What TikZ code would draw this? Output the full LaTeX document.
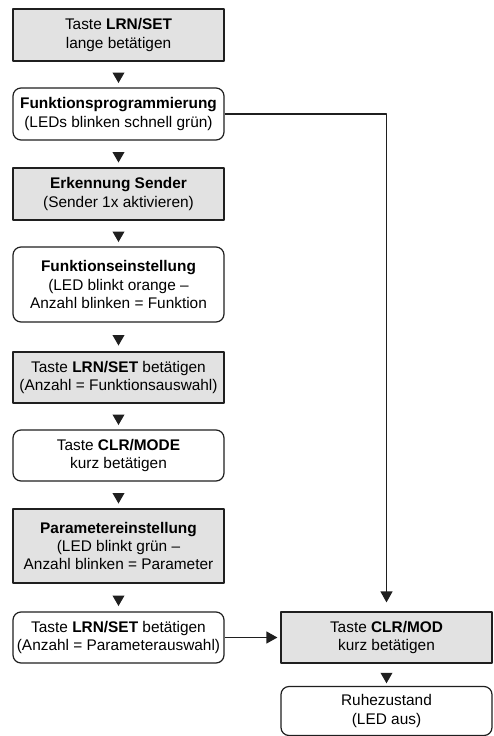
\documentclass[tikz,border=0pt]{standalone}
\usepackage{fontspec}
\setmainfont{Liberation Sans}
\usetikzlibrary{arrows.meta,shapes.geometric}
\definecolor{boxgray}{gray}{0.885}
\definecolor{strich}{gray}{0.12}
\tikzset{
  every picture/.style={line join=round, >=Stealth},
  kasten/.style={draw=strich, line width=1.2pt, minimum width=211pt, minimum height=52pt,
    align=center, inner sep=2pt, font=\fontsize{15.4}{18.3}\selectfont},
  grau/.style={kasten, fill=boxgray},
  rund/.style={kasten, rounded corners=8pt},
  dreieck/.style={regular polygon, regular polygon sides=3, shape border rotate=180,
    fill=strich, inner sep=0pt, minimum size=14pt},
  verbindung/.style={draw=strich, line width=1.2pt, -{Triangle[width=12pt,length=11pt]}},
}

\begin{document}
\begin{tikzpicture}[x=1pt,y=-1pt]
\useasboundingbox (0,0) rectangle (494,736);
% linke Spalte
\node[grau] (lrnlang) at (118.5,35) {Taste \textbf{LRN/SET}\\lange betätigen};
\node[rund] (funkprog) at (118.5,114) {\textbf{Funktionsprogrammierung}\\(LEDs blinken schnell grün)};
\node[grau] (sender) at (118.5,194) {\textbf{Erkennung Sender}\\(Sender 1x aktivieren)};
\node[rund,minimum height=75pt] (funkeinst) at (118.5,284.5) {\textbf{Funktionseinstellung}\\(LED blinkt orange –\\Anzahl blinken = Funktion};
\node[grau,minimum height=51pt] (funkwahl) at (118.5,377.5) {Taste \textbf{LRN/SET} betätigen\\(Anzahl = Funktionsauswahl)};
\node[rund,minimum height=51pt] (clrmode) at (118.5,455.5) {Taste \textbf{CLR/MODE}\\kurz betätigen};
\node[grau,minimum height=74pt] (parameinst) at (118.5,546) {\textbf{Parametereinstellung}\\(LED blinkt grün –\\Anzahl blinken = Parameter};
\node[rund,minimum height=51pt] (paramwahl) at (118.5,637.5) {Taste \textbf{LRN/SET} betätigen\\(Anzahl = Parameterauswahl)};
% rechte Spalte
\node[grau,minimum height=51pt] (clrmod) at (386.5,637.5) {Taste \textbf{CLR/MOD}\\kurz betätigen};
\node[rund,minimum height=49pt] (ruhe) at (386.5,711) {Ruhezustand\\(LED aus)};
% Dreiecke zwischen den Kaesten
\foreach \a/\b in {lrnlang/funkprog,funkprog/sender,sender/funkeinst,funkeinst/funkwahl,
  funkwahl/clrmode,clrmode/parameinst,parameinst/paramwahl,clrmod/ruhe}
  \path (\a.south) -- node[dreieck,yshift=-1.5pt]{} (\b.north);
% Verbindungen
\draw[verbindung,shorten >=9pt] (funkprog.east) -| (clrmod.north);
\draw[verbindung,shorten >=3pt] (paramwahl) -- (clrmod);
\end{tikzpicture}
\end{document}
